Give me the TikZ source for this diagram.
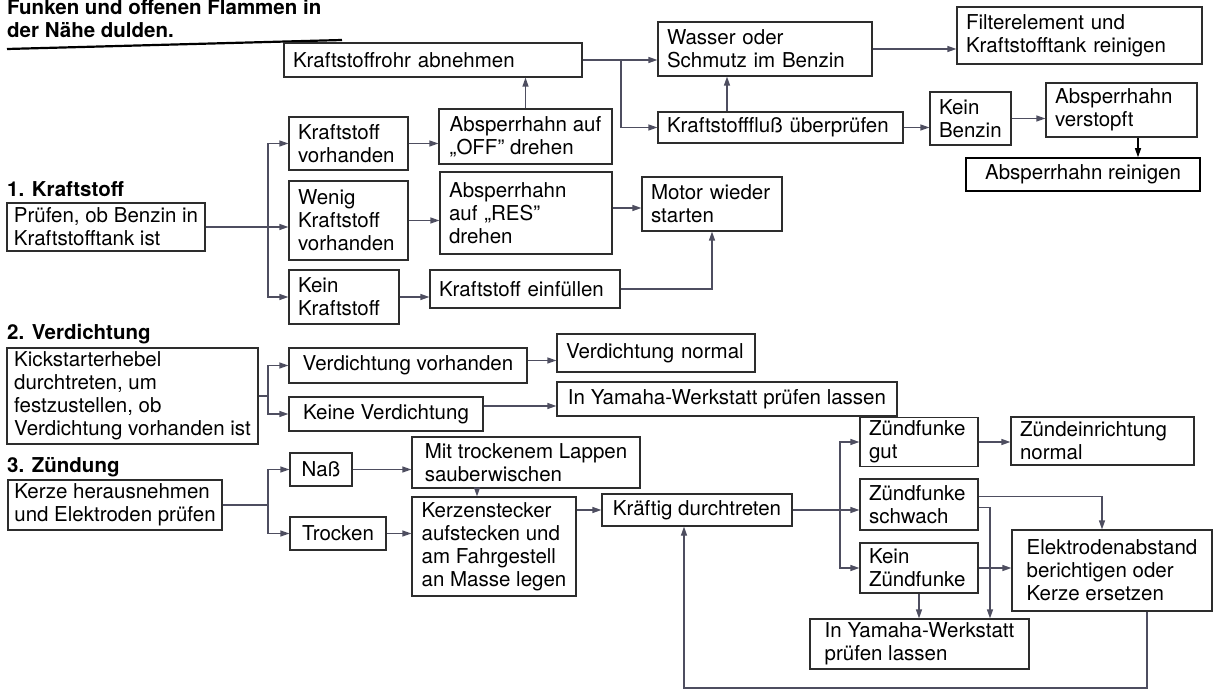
\documentclass[tikz,border=0pt]{standalone}
\usepackage{fontspec}
\setmainfont{TeX Gyre Heros}
\usepackage{tikz}
\usetikzlibrary{arrows.meta}
\definecolor{strich}{RGB}{78,78,96}
\definecolor{rand}{RGB}{45,45,45}

\begin{document}
\begin{tikzpicture}[x=1pt,y=1pt,every node/.style={font=\fontsize{20.5}{23}\selectfont},
  kasten/.style={draw=rand,line width=1.2pt,fill=white,align=left,inner xsep=5pt,inner ysep=3pt},
  links/.style={kasten,inner xsep=9pt},
  titel/.style={font=\fontsize{20.5}{23}\selectfont\bfseries,anchor=base west,inner sep=0pt},
  verbindung/.style={draw=strich,line width=1.2pt},
  pfeil/.style={verbindung,-{Triangle[length=9pt,width=6pt]}}]
\clip (0,0) rectangle (1216,-692);
\fill[white] (0,0) rectangle (1216,-692);
% Kopf
\node[titel] (warn1) at (7,-15) {Funken und offenen Flammen in};
\node[titel] (warn2) at (7,-38) {der Nähe dulden.};
\draw[line width=2.2pt] (7,-49) -- (342,-40);
% 1. Kraftstoff
\node[titel] (t1) at (7,-197) {1. Kraftstoff};
\node[kasten,minimum width=198pt,minimum height=48pt] (pruefen) at (106,-227) {Prüfen, ob Benzin in\\Kraftstofftank ist};
\node[links,text width=101pt,minimum height=53pt] (kvorh) at (348.5,-143.5) {Kraftstoff\\vorhanden};
\node[links,text width=101pt,minimum height=79pt] (wenig) at (348.5,-220.5) {Wenig\\Kraftstoff\\vorhanden};
\node[links,text width=92pt,minimum height=54pt] (kkein) at (344,-297) {Kein\\Kraftstoff};
\node[kasten,minimum width=173pt,minimum height=55pt] (off) at (525.5,-136.5) {Absperrhahn auf\\,,OFF'' drehen};
\node[links,text width=154pt,minimum height=82pt] (res) at (526,-213) {Absperrhahn\\auf ,,RES''\\drehen};
\node[links,text width=172pt,minimum height=38pt] (einf) at (525,-289) {Kraftstoff einfüllen};
\node[links,text width=122pt,minimum height=54pt] (motor) at (712,-204) {Motor wieder\\starten};
\node[links,text width=280pt,minimum height=34pt] (rohr) at (433,-60) {Kraftstoffrohr abnehmen};
\node[links,text width=196pt,minimum height=54pt] (wasser) at (765,-49) {Wasser oder\\Schmutz im Benzin};
\node[links,text width=227pt,minimum height=31pt] (fluss) at (780.5,-127.5) {Kraftstofffluß überprüfen};
\node[links,text width=227pt,minimum height=57pt] (filter) at (1079.5,-35.5) {Filterelement und\\Kraftstofftank reinigen};
\node[links,text width=63pt,minimum height=53pt] (kbenzin) at (970.5,-118.5) {Kein\\Benzin};
\node[links,text width=133pt,minimum height=54pt] (verstopft) at (1121.5,-110) {Absperrhahn\\verstopft};
\node[kasten,draw=black,line width=1.5pt,minimum width=234pt,minimum height=33pt] (reinigen) at (1083,-174.5) {Absperrhahn reinigen};
\coordinate (ga) at (268,-227);
\coordinate (gb) at (621,-60);
\coordinate (fw) at (727,0);
\coordinate (vr) at (1138,0);
\draw[verbindung] (pruefen.east) -- (ga);
\draw[pfeil] (ga) -- (ga -| wenig.west);
\draw[pfeil] (ga) |- (kvorh.west);
\draw[pfeil] (ga) |- (kkein.west);
\draw[pfeil] (kvorh.east) -- (kvorh.east -| off.west);
\draw[pfeil] (wenig.east) -- (wenig.east -| res.west);
\draw[pfeil] (kkein.east) -- (kkein.east -| einf.west);
\draw[pfeil] ([yshift=5pt]res.east) -- ([yshift=5pt]res.east -| motor.west);
\draw[pfeil] (einf.east) -| (motor.south);
\draw[pfeil] (off.north) -- (off.north |- rohr.south);
\draw[pfeil] (rohr.east) -- (rohr.east -| wasser.west);
\draw[pfeil] (gb) |- (fluss.west);
\draw[pfeil] (fluss.north -| fw) -- (wasser.south -| fw);
\draw[pfeil] (wasser.east) -- (wasser.east -| filter.west);
\draw[pfeil] (fluss.east) -- (fluss.east -| kbenzin.west);
\draw[pfeil] (kbenzin.east) -- (kbenzin.east -| verstopft.west);
\draw[pfeil,draw=black] (verstopft.south -| vr) -- (reinigen.north -| vr);
% 2. Verdichtung
\node[titel] (t2) at (7,-340) {2. Verdichtung};
\node[kasten,minimum width=251pt,minimum height=96pt] (kick) at (132.5,-396) {Kickstarterhebel\\durchtreten, um\\festzustellen, ob\\Verdichtung vorhanden ist};
\node[kasten,minimum width=238pt,minimum height=35pt] (vvorh) at (408,-365.5) {Verdichtung vorhanden};
\node[kasten,minimum width=194pt,minimum height=34pt] (vkeine) at (386,-414) {Keine Verdichtung};
\node[links,text width=180pt,minimum height=38pt] (vnormal) at (656,-353) {Verdichtung normal};
\node[kasten,minimum width=340pt,minimum height=34pt] (vwerk) at (727,-399) {In Yamaha-Werkstatt prüfen lassen};
\coordinate (gc) at (268,-396);
\draw[verbindung] (kick.east) -- (gc);
\draw[pfeil] (gc) |- (vvorh.west);
\draw[pfeil] (gc) |- (vkeine.west);
\draw[pfeil] ([yshift=5pt]vvorh.east) -- ([yshift=5pt]vvorh.east -| vnormal.west);
\draw[pfeil] ([yshift=8pt]vkeine.east) -- ([yshift=8pt]vkeine.east -| vwerk.west);
% 3. Zuendung
\node[titel] (t3) at (7,-472) {3. Zündung};
\node[kasten,minimum width=214pt,minimum height=50pt] (kerze) at (115,-505) {Kerze herausnehmen\\und Elektroden prüfen};
\node[kasten,minimum width=62pt,minimum height=33pt] (nass) at (321,-469.5) {Naß};
\node[kasten,minimum width=96pt,minimum height=33pt] (trocken) at (338,-533.5) {Trocken};
\node[kasten,minimum width=228pt,minimum height=51pt] (lappen) at (526,-462.5) {Mit trockenem Lappen\\sauberwischen};
\node[kasten,minimum width=164pt,minimum height=99pt] (stecker) at (494,-546.5) {Kerzenstecker\\aufstecken und\\am Fahrgestell\\an Masse legen};
\node[kasten,minimum width=190pt,minimum height=32pt] (kraeftig) at (697,-510) {Kräftig durchtreten};
\node[links,text width=100pt,minimum height=48pt] (gut) at (919,-442) {Zündfunke\\gut};
\node[links,text width=165pt,minimum height=48pt] (zeinr) at (1102.5,-441) {Zündeinrichtung\\normal};
\node[links,text width=100pt,minimum height=51pt] (schwach) at (919,-504.5) {Zündfunke\\schwach};
\node[links,text width=100pt,minimum height=50pt] (zkein) at (919,-568) {Kein\\Zündfunke};
\node[kasten,minimum width=200pt,minimum height=81pt] (elektr) at (1112,-570.5) {Elektrodenabstand\\berichtigen oder\\Kerze ersetzen};
\node[kasten,minimum width=219pt,minimum height=50pt] (zwerk) at (919.5,-644) {In Yamaha-Werkstatt\\prüfen lassen};
\coordinate (gd) at (268,-505);
\coordinate (ls) at (477,0);
\coordinate (ge) at (840,-510);
\coordinate (se) at (1102,0);
\coordinate (sw) at (990,0);
\coordinate (ru) at (1147,-688);
\coordinate (rl) at (684,-688);
\draw[verbindung] (kerze.east) -- (gd);
\draw[pfeil] (gd) |- (nass.west);
\draw[pfeil] (gd) |- (trocken.west);
\draw[pfeil] (nass.east) -- (nass.east -| lappen.west);
\draw[pfeil] (trocken.east) -- (trocken.east -| stecker.west);
\draw[pfeil] (lappen.south -| ls) -- (stecker.north -| ls);
\draw[pfeil] (stecker.east |- kraeftig.west) -- (kraeftig.west);
\draw[pfeil] (kraeftig.east) -- (kraeftig.east -| schwach.west);
\draw[pfeil] (ge) |- (gut.west);
\draw[pfeil] (ge) |- (zkein.west);
\draw[pfeil] (gut.east) -- (gut.east -| zeinr.west);
\draw[pfeil] ([yshift=8pt]schwach.east) -| (elektr.north -| se);
\draw[pfeil] ([yshift=-3pt]schwach.east) -| (zwerk.north -| sw);
\draw[pfeil] (zkein.east) -- (zkein.east -| elektr.west);
\draw[pfeil] (zkein.south) -- (zkein.south |- zwerk.north);
\draw[pfeil] (elektr.south -| ru) -- (ru) -- (rl) -- (kraeftig.south -| rl);
\end{tikzpicture}
\end{document}
